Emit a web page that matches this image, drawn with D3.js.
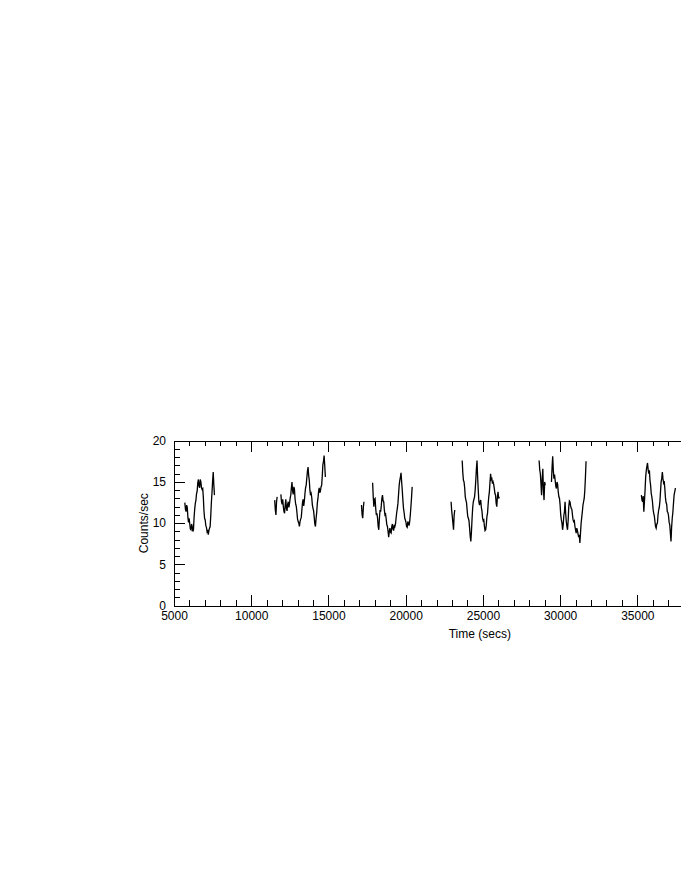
<!DOCTYPE html>
<html>
<head>
<meta charset="utf-8">
<script src="https://cdn.jsdelivr.net/npm/d3@7"></script>
<style>
    body { margin: 0; background: #fff; }
    text { font-family: "Liberation Sans", Arial, Helvetica, sans-serif; font-size: 12px; fill: #000; }
    .axis path, .axis line { stroke: #000; stroke-width: 1; shape-rendering: crispEdges; }
</style>
</head>
<body>
<div id="chart"></div>
<script>
// light curve, fixed 40 s time bins, null = gap in the data
const binSize = 40;
const segStarts = [5700, 11520, 17140, 22940, 28640, 35260];

const seg1Counts = [12.5, 11.7, 11.4, 12.2, 11.9, 10.7, 10.1, 10.6, 9.9, 9.3, 9.2, 9.9, 9.6, 9.0,
    9.2, 10.7, 11.7, 12.4, 12.8, 13.6, 13.9, 14.9, 15.3, 14.5, 14.3, 15.3, 15.0, 14.3, 14.1,
    14.2, 13.1, 11.5, 10.6, 10.4, 9.7, 9.5, 9.0, 9.2, 8.6, 9.1, 9.4, 9.6, 10.9, 12.5, 13.7,
    15.1, 16.2, 14.6, 13.4];
const seg2Counts = [12.8, 11.6, 11.0, 12.6, 13.2, null, null, null, null, null, 13.5, 12.6, 12.3,
    12.9, 12.0, 11.4, 11.2, 12.2, 12.9, 11.8, 11.5, 12.3, 12.6, 11.9, 12.4, 13.0, 13.4, 14.3,
    15.0, 13.9, 13.5, 14.4, 14.1, 12.9, 12.3, 12.0, 11.3, 10.5, 10.2, 10.0, 9.6, 10.2, 10.5,
    10.7, 11.6, 12.5, 12.9, 12.1, 12.7, 13.6, 14.3, 14.6, 15.5, 16.3, 16.8, 15.8, 15.2, 14.0,
    13.4, 13.6, 13.1, 12.2, 11.8, 11.5, 10.7, 9.9, 9.6, 10.6, 11.3, 12.4, 13.0, 13.8, 14.3,
    13.7, 13.9, 14.4, 14.6, 15.7, 17.1, 17.5, 18.2, 17.0, 15.6];
const seg3Counts = [12.2, 11.0, 10.6, 11.9, 12.6, null, null, null, null, null, null, null, null,
    null, null, null, null, null, 14.9, 13.2, 12.0, 12.9, 13.0, 11.8, 11.0, 11.2, 10.6, 9.6,
    9.2, 10.6, 11.6, 11.4, 12.1, 13.0, 13.4, 12.7, 12.6, 11.6, 11.0, 11.1, 10.5, 9.8, 9.6,
    9.0, 8.3, 9.0, 9.4, 8.9, 8.8, 9.6, 9.9, 9.3, 9.1, 9.8, 9.6, 9.9, 10.6, 11.3, 11.8, 12.4,
    13.5, 14.6, 15.2, 15.6, 16.1, 15.0, 14.0, 12.8, 11.8, 11.3, 10.6, 10.4, 10.1, 9.6, 9.5,
    10.2, 10.0, 9.7, 10.2, 11.0, 12.0, 13.1, 14.4];
const seg4Counts = [12.6, 11.5, 10.8, 10.0, 9.2, 11.0, 11.6, null, null, null, null, null, null,
    null, null, null, null, null, 17.6, 16.1, 15.2, 15.0, 14.3, 13.2, 12.8, 12.5, 11.6, 10.8,
    10.6, 10.3, 9.4, 8.4, 7.8, 9.0, 10.6, 11.9, 12.6, 12.9, 13.2, 14.0, 15.2, 16.6, 17.6, 15.6,
    14.0, 12.6, 12.2, 12.6, 12.8, 11.9, 11.5, 10.6, 10.3, 10.4, 9.6, 9.1, 9.2, 9.8, 10.8, 11.2,
    12.3, 13.2, 13.8, 15.0, 16.0, 15.3, 15.4, 14.8, 15.0, 14.7, 14.2, 13.6, 13.4, 12.4, 12.0,
    13.2, 13.8, 13.0, 13.2];
const seg5Counts = [17.6, 16.5, 16.0, 14.8, 13.4, 15.4, 16.6, 14.0, 12.8, 15.0, 14.6, null, null,
    null, null, null, null, null, null, null, 15.0, 16.8, 18.1, 16.4, 15.4, 15.9, 15.2, 14.5,
    14.2, 15.0, 14.7, 13.8, 13.2, 13.0, 12.2, 11.0, 10.4, 10.0, 9.2, 9.8, 10.9, 11.4, 12.6,
    11.2, 10.2, 9.6, 9.2, 10.3, 12.0, 12.7, 12.6, 12.1, 11.8, 11.7, 11.0, 10.4, 10.2, 10.3,
    9.6, 9.2, 8.8, 9.4, 9.1, 8.7, 8.3, 8.6, 7.6, 8.8, 10.0, 10.7, 11.4, 12.2, 12.6, 13.0,
    14.0, 15.6, 17.5];
const seg6Counts = [13.4, 12.8, 12.6, 13.3, 11.4, 12.6, 14.0, 15.6, 16.4, 16.9, 17.3, 16.5, 16.0,
    16.4, 15.2, 14.6, 13.6, 13.2, 12.6, 11.7, 11.2, 10.9, 10.2, 9.6, 9.4, 9.9, 10.0, 11.0,
    11.6, 11.9, 12.6, 13.8, 15.0, 15.4, 16.2, 15.4, 14.9, 15.1, 14.2, 13.1, 12.5, 12.3, 11.4,
    11.3, 10.9, 10.1, 9.8, 8.8, 7.8, 9.5, 10.6, 11.3, 12.4, 13.4, 13.8, 14.2, 14.2];

const xMajor = [5000, 10000, 15000, 20000, 25000, 30000, 35000, 40000];
const yMajor = [0, 5, 10, 15, 20];

function drawLightCurve(parent) {
    let svg = d3.select(parent).append("svg")
        .attr("width", 681)
        .attr("height", 880);

    // plot frame runs off the right edge of the page
    let x = d3.scaleLinear().domain([5000, 44600]).range([174, 785.6]);
    let y = d3.scaleLinear().domain([0, 20]).range([605.7, 440.7]);

    let xMinor = d3.range(5000, 44600, 1000).filter(d => d % 5000 !== 0);
    let yMinor = d3.range(0, 20, 1).filter(d => d % 5 !== 0);

    let bottom = y(0), top = y(20), left = x(5000), right = x(44600);

    // labels past the page edge are not drawn
    let xLabel = d => x(d) > 681 - 20 ? "" : d3.format("d")(d);

    // bottom axis, ticks pointing inward
    svg.append("g").attr("class", "axis")
        .attr("transform", "translate(0," + bottom + ")")
        .call(d3.axisBottom(x).tickValues(xMajor).tickSize(-11).tickSizeOuter(0)
            .tickPadding(6).tickFormat(xLabel))
        .call(g => g.selectAll("text").attr("font-family", null).attr("font-size", null));
    svg.append("g").attr("class", "axis")
        .attr("transform", "translate(0," + bottom + ")")
        .call(d3.axisBottom(x).tickValues(xMinor).tickSize(-5.5).tickSizeOuter(0).tickFormat(""));

    // top axis
    svg.append("g").attr("class", "axis")
        .attr("transform", "translate(0," + top + ")")
        .call(d3.axisTop(x).tickValues(xMajor).tickSize(-11).tickSizeOuter(0).tickFormat(""));
    svg.append("g").attr("class", "axis")
        .attr("transform", "translate(0," + top + ")")
        .call(d3.axisTop(x).tickValues(xMinor).tickSize(-5.5).tickSizeOuter(0).tickFormat(""));

    // left axis
    svg.append("g").attr("class", "axis")
        .attr("transform", "translate(" + left + ",0)")
        .call(d3.axisLeft(y).tickValues(yMajor).tickSize(-11).tickSizeOuter(0).tickPadding(8))
        .call(g => g.selectAll("text").attr("font-family", null).attr("font-size", null)
            .attr("dy", "0.3em"));
    svg.append("g").attr("class", "axis")
        .attr("transform", "translate(" + left + ",0)")
        .call(d3.axisLeft(y).tickValues(yMinor).tickSize(-5.5).tickSizeOuter(0).tickFormat(""));

    // right axis (outside the page)
    svg.append("g").attr("class", "axis")
        .attr("transform", "translate(" + right + ",0)")
        .call(d3.axisRight(y).tickValues(yMajor).tickSize(-11).tickSizeOuter(0).tickFormat(""));

    svg.append("text")
        .attr("x", (left + right) / 2)
        .attr("y", 638)
        .attr("text-anchor", "middle")
        .text("Time (secs)");

    svg.append("text")
        .attr("transform", "translate(148," + ((top + bottom) / 2) + ") rotate(-90)")
        .attr("text-anchor", "middle")
        .text("Counts/sec");

    let segments = [seg1Counts, seg2Counts, seg3Counts, seg4Counts, seg5Counts, seg6Counts]
        .map((counts, k) => counts.map((c, i) => ({t: segStarts[k] + i * binSize, c: c})));

    let line = d3.line()
        .defined(d => d.c !== null)
        .x(d => x(d.t))
        .y(d => y(d.c));

    svg.selectAll(".seg")
        .data(segments)
        .enter().append("path")
        .attr("class", "seg")
        .attr("d", line)
        .attr("fill", "none")
        .attr("stroke", "#000")
        .attr("stroke-width", 1.3);
}

drawLightCurve(document.getElementById("chart"));
</script>
</body>
</html>
